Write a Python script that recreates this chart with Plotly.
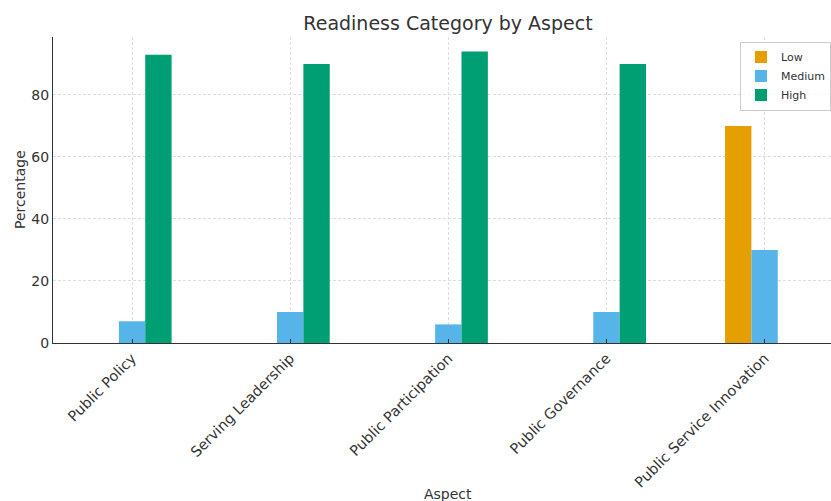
import plotly.graph_objects as go

aspects = ["Public Policy", "Serving Leadership", "Public Participation",
           "Public Governance", "Public Service Innovation"]
low = [0, 0, 0, 0, 70]
medium = [7, 10, 6, 10, 30]
high = [93, 90, 94, 90, 0]

series = [("Low", low, "#E69F00"), ("Medium", medium, "#56B4E9"), ("High", high, "#009E73")]

W, H = 831, 501
fig = go.Figure()
for name, vals, color in series:
    fig.add_trace(go.Bar(x=aspects, y=vals, name=name, marker=dict(color=color, line=dict(width=0))))

font_family = "DejaVu Sans"
fig.update_layout(
    width=W, height=H,
    margin=dict(l=53, r=0, t=37, b=158),
    paper_bgcolor="white", plot_bgcolor="white",
    barmode="group", bargap=0.5, bargroupgap=0,
    font=dict(family=font_family, color="#333333", size=14),
    title=dict(text="Readiness Category by Aspect", x=448/W, xanchor="center",
               y=1 - 23/H, yanchor="middle", font=dict(size=19, color="#333333")),
    legend=dict(x=1, xanchor="right", y=0.985, yanchor="top",
                bordercolor="#cccccc", borderwidth=1, bgcolor="rgba(255,255,255,0.8)",
                font=dict(size=11, color="#333333"), tracegroupgap=0),
    showlegend=True,
)
fig.update_xaxes(
    range=[-0.5, 4.42], tickangle=-45, showline=True, linecolor="#333333", linewidth=1.3,
    ticks="inside", ticklen=4, tickcolor="#333333", mirror=False, automargin=False,
    showgrid=True, gridcolor="#dddddd", griddash="3px,2px", gridwidth=1,
    tickfont=dict(size=14.5),
)
fig.update_yaxes(
    range=[0, 98.7], tickvals=[0, 20, 40, 60, 80], showline=True, linecolor="#333333", linewidth=1.3,
    ticks="", showgrid=True, gridcolor="#dddddd", griddash="3px,2px", gridwidth=1, zeroline=False,
    automargin=False, tickfont=dict(size=14),
)
# axis titles
fig.add_annotation(text="Aspect", xref="paper", yref="paper", x=(448 - 53) / (W - 53),
                   y=-(494 - 343) / (343 - 37), xanchor="center", yanchor="middle",
                   showarrow=False, font=dict(size=14, color="#333333"))
fig.add_annotation(text="Percentage", xref="paper", yref="paper", x=-(53 - 20) / (W - 53),
                   y=(343 - 190) / (343 - 37), xanchor="center", yanchor="middle",
                   textangle=-90, showarrow=False, font=dict(size=14, color="#333333"))
fig.write_html("out.html")
